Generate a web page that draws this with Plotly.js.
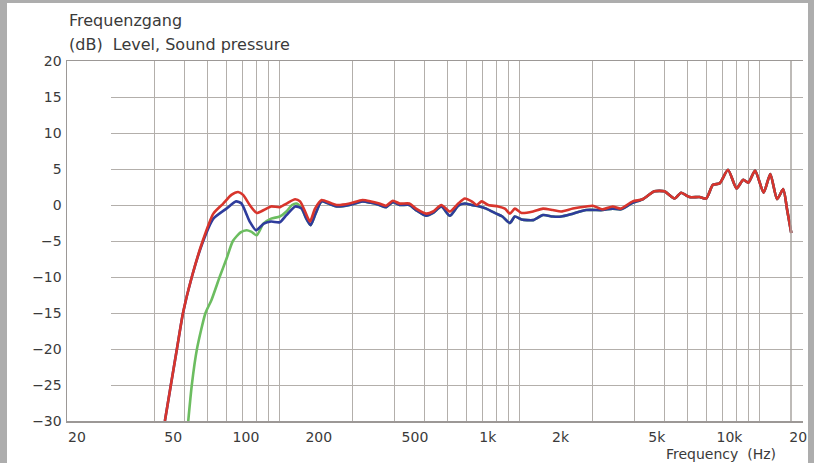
<!DOCTYPE html>
<html><head><meta charset="utf-8">
<script src="https://cdn.plot.ly/plotly-3.0.1.min.js"></script>
<style>
html,body{margin:0;padding:0;background:#adadad;width:814px;height:463px;overflow:hidden}
#chart{position:absolute;left:7px;top:3px;width:801px;height:460px;background:#fff}
</style></head><body><div id="chart"></div>
<script>
// ---- data ----
const tickFreqs  = [20, 50, 100, 200, 500, 1000, 2000, 5000, 10000, 20000];
const tickLabels = ['20', '50', '100', '200', '500', '1k', '2k', '5k', '10k', '20k'];
const dbTicks    = [-30, -25, -20, -15, -10, -5, 0, 5, 10, 15, 20];
const gridFreqs  = [20,30,40,50,60,70,80,90,100,200,300,400,500,600,700,800,900,
                    1000,2000,3000,4000,5000,6000,7000,8000,9000,10000];

const redFreq = [46.2, 48.9, 51.8, 54.9, 59.7, 66.2, 73.3, 80.5, 87, 92.8, 97.3, 103.6, 110.8, 118.5, 127, 138, 147, 159.6, 167.4, 175.6, 184, 193, 205.6, 222.8, 237, 268, 303, 329, 356, 380, 405, 432, 474, 505, 557, 594, 643, 697, 755, 804, 858, 900, 944, 1005, 1105, 1177, 1235, 1295, 1380, 1540, 1692, 1860, 2013, 2250, 2555, 2720, 2990, 3285, 3555, 3975, 4375, 4890, 5380, 5920, 6310, 6830, 7520, 8010, 8540, 9100, 9860, 10700, 11400, 11970, 12760, 13840, 14750, 15730, 16680, 17320, 18010];
const redDb   = [-30, -25, -20, -15, -10, -5, -1.2, 0.2, 1.4, 1.8, 1.4, 0, -1.1, -0.7, -0.2, -0.3, 0.2, 0.8, 0.5, -0.9, -2.3, -0.5, 0.7, 0.3, 0, 0.2, 0.7, 0.5, 0.2, -0.1, 0.6, 0.2, 0.2, -0.5, -1.2, -0.9, 0, -0.9, 0.2, 0.9, 0.5, 0, 0.5, 0, -0.2, -0.5, -1.2, -0.5, -1.1, -0.9, -0.5, -0.7, -0.9, -0.5, -0.2, -0.1, -0.6, -0.2, -0.5, 0.5, 0.8, 1.9, 1.9, 0.9, 1.7, 1.1, 1.1, 0.9, 2.8, 3.0, 4.9, 2.3, 3.5, 3.1, 4.8, 1.7, 4.3, 0.8, 2.2, -0.7, -3.9];

const blueFreq = [46.2, 48.9, 51.8, 54.9, 59.7, 66.2, 73.3, 83, 91, 95.8, 103.6, 110, 118.5, 127, 138, 147, 160, 170, 177, 185, 194, 205.6, 222.8, 237, 268, 303, 329, 356, 380, 405, 432, 474, 505, 557, 594, 643, 697, 755, 804, 858, 925, 986, 1085, 1150, 1235, 1295, 1380, 1540, 1692, 1860, 2013, 2250, 2555, 2990, 3285, 3555, 3975, 4375, 4890, 5380, 5920, 6310, 6830, 7520, 8010, 8540, 9100, 9860, 10700, 11400, 11970, 12760, 13840, 14750, 15730, 16680, 17320, 18010];
const blueDb   = [-30, -25, -20, -15, -10, -5.2, -1.9, -0.5, 0.5, 0.2, -2.3, -3.5, -2.6, -2.3, -2.4, -1.4, -0.2, -0.5, -1.8, -2.8, -1.2, 0.5, 0.1, -0.2, 0, 0.5, 0.3, 0, -0.3, 0.4, 0, 0, -0.7, -1.5, -1.1, -0.2, -1.5, -0.1, 0.2, 0, -0.2, -0.5, -1.2, -1.6, -2.5, -1.6, -2.0, -2.1, -1.4, -1.6, -1.6, -1.2, -0.7, -0.7, -0.5, -0.6, 0.3, 0.8, 1.9, 1.9, 0.9, 1.7, 1.1, 1.1, 0.9, 2.8, 3.0, 4.9, 2.3, 3.5, 3.1, 4.8, 1.7, 4.3, 0.8, 2.2, -0.7, -3.9];

const greenFreq = [57.7, 59.7, 62.7, 68, 72, 77.8, 83, 88.3, 95, 100.6, 105, 110.8, 118, 127, 138, 147, 155, 162, 170, 177, 185, 194, 205.6, 222.8, 237, 268, 303, 329, 356, 380, 405, 432, 474, 505, 557, 594, 643, 697, 755, 804, 858, 925, 986, 1085, 1150, 1235, 1295, 1380, 1540, 1692, 1860, 2013, 2250, 2555, 2990, 3285, 3555, 3975, 4375, 4890, 5380, 5920, 6310, 6830, 7520, 8010, 8540, 9100, 9860, 10700, 11400, 11970, 12760, 13840, 14750, 15730, 16680, 17320, 18010];
const greenDb   = [-30, -25, -20, -15, -13.2, -10, -7.5, -5, -3.8, -3.5, -3.7, -4.2, -2.6, -1.9, -1.6, -0.9, 0, 0.2, -0.5, -1.8, -2.8, -1.2, 0.5, 0.1, -0.2, 0, 0.5, 0.3, 0, -0.3, 0.4, 0, 0, -0.7, -1.5, -1.1, -0.2, -1.5, -0.1, 0.2, 0, -0.2, -0.5, -1.2, -1.6, -2.5, -1.6, -2.0, -2.1, -1.4, -1.6, -1.6, -1.2, -0.7, -0.7, -0.5, -0.6, 0.3, 0.8, 1.9, 1.9, 0.9, 1.7, 1.1, 1.1, 0.9, 2.8, 3.0, 4.9, 2.3, 3.5, 3.1, 4.8, 1.7, 4.3, 0.8, 2.2, -0.7, -3.9];

// ---- layout helpers (page pixels -> plot-area fractions) ----
const PL = 67, PR = 803, PT = 61, PB = 421;
const px = x => (x - PL) / (PR - PL);
const py = y => (PB - y) / (PB - PT);
const gridCol = '#b3afab';

function line(x, y, color) {
  return {x: x, y: y, xaxis: 'x2', yaxis: 'y2', type: 'scatter', mode: 'lines',
          line: {color: color, width: 2.6, shape: 'spline', smoothing: 0.6},
          hoverinfo: 'skip', showlegend: false};
}

const traces = [
  {x: [], y: [], xaxis: 'x', yaxis: 'y', type: 'scatter', mode: 'lines', showlegend: false, hoverinfo: 'skip'},
  line(greenFreq, greenDb, '#6cbd60'),
  line(blueFreq, blueDb, '#2e3c9c'),
  line(redFreq, redDb, '#d8352c')
];

const fontFam = 'DejaVu Sans, Verdana, sans-serif';
const layout = {
  width: 801, height: 460,
  margin: {l: 60, r: 5, t: 58, b: 42},
  paper_bgcolor: '#ffffff', plot_bgcolor: 'rgba(0,0,0,0)',
  showlegend: false,
  font: {family: fontFam, size: 14, color: '#3a3a3a'},
  xaxis: {type: 'log', domain: [px(111), 1], range: [Math.log10(20) - 1/240, Math.log10(20) + (PR - 112)/240],
          tickvals: gridFreqs, showticklabels: false, ticks: '', showgrid: true, gridcolor: gridCol, gridwidth: 1,
          zeroline: false, showline: false, anchor: 'y'},
  yaxis: {domain: [0, 1], range: [-30, 20], tickvals: dbTicks, showticklabels: false, ticks: '',
          showgrid: true, gridcolor: gridCol, gridwidth: 1, zeroline: false, showline: false, anchor: 'x'},
  xaxis2: {type: 'log', domain: [0, 1], range: [Math.log10(20) - 10/242, Math.log10(20) + (PR - 77)/242 + 0.003],
           tickvals: tickFreqs, ticktext: tickLabels, showgrid: false, zeroline: false,
           showline: true, linecolor: '#9c9896', linewidth: 1.5, mirror: true, ticks: '',
           ticklabelstandoff: 3, ticklabeloverflow: 'allow', anchor: 'y2', tickfont: {size: 14, color: '#3a3a3a'}},
  yaxis2: {domain: [0, 1], range: [-30, 20], tickvals: dbTicks, showgrid: false, zeroline: false,
           showline: true, linecolor: '#9c9896', linewidth: 1.5, ticks: '', ticklabelstandoff: 1,
           anchor: 'x2', tickfont: {size: 14, color: '#3a3a3a'}},
  shapes: [
    {type: 'line', xref: 'paper', yref: 'paper', x0: px(791), x1: px(791), y0: 0, y1: 1,
     line: {color: '#a8a4a0', width: 1.5}}
  ],
  annotations: [
    {text: 'Frequenzgang', xref: 'paper', yref: 'paper', x: px(67), y: py(21), xanchor: 'left', yanchor: 'middle',
     showarrow: false, font: {family: fontFam, size: 16, color: '#3a3a3a'}},
    {text: '(dB)\u00a0 Level, Sound pressure', xref: 'paper', yref: 'paper', x: px(67), y: py(45), xanchor: 'left', yanchor: 'middle',
     showarrow: false, font: {family: fontFam, size: 16, color: '#3a3a3a'}},
    {text: 'Frequency\u00a0 (Hz)', xref: 'paper', yref: 'paper', x: px(778), y: py(454), xanchor: 'right', yanchor: 'middle',
     showarrow: false, font: {family: fontFam, size: 14, color: '#3a3a3a'}}
  ]
};

Plotly.newPlot('chart', traces, layout, {staticPlot: true, displayModeBar: false});
</script></body></html>
